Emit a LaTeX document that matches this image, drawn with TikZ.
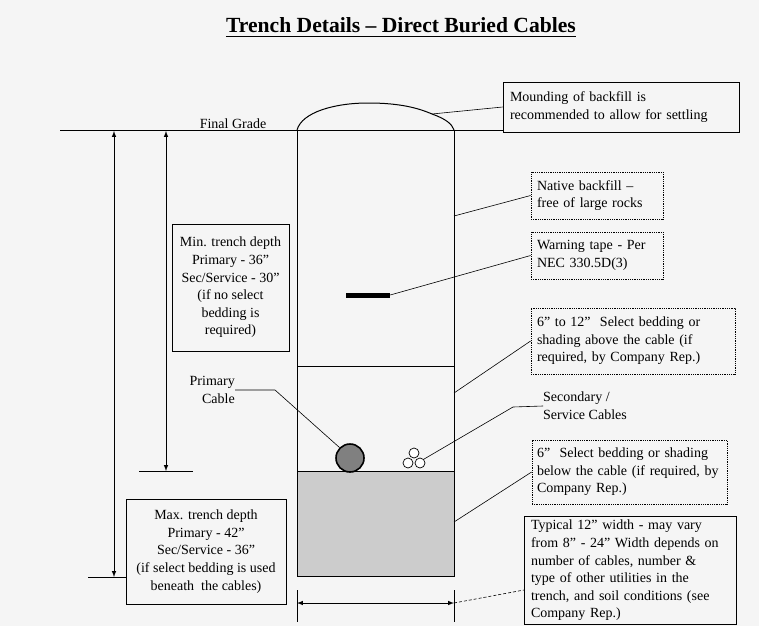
\documentclass[tikz,border=0pt]{standalone}
\usepackage{fontspec}
\setmainfont{Liberation Serif}
\usepackage{tikz}
\usetikzlibrary{positioning}

\tikzset{
    note/.style={draw=black, line width=0.8, inner sep=4, font=\fontsize{14}{17.6}\selectfont},
    dotnote/.style={note, densely dotted},
    lead/.style={line width=0.6},
    wall/.style={line width=1}
}

\begin{document}
\begin{tikzpicture}[x=1pt, y=-1pt, >=latex]
        \useasboundingbox (0, 0) rectangle (759, 626);
        \fill[black!4] (0, 0) rectangle (759, 626);
        % title
        \node(title) [anchor=base, inner sep=0, font=\fontsize{21.6}{24}\selectfont\bfseries] at (401, 33) {Trench Details -- Direct Buried Cables};
        \draw[line width=1.4] ([yshift=-3.5]title.base west) -- ([yshift=-3.5]title.base east);
        % ground and trench
        \draw[wall] (60, 130) -- (503, 130);
        \node(grade) [anchor=base, inner sep=0, font=\fontsize{14}{17.6}\selectfont] at (233, 128) {Final Grade};
        \fill[black!20] (297, 471) rectangle (454, 576);
        \draw[wall] (297, 130) -- (297, 576) -- (454, 576) -- (454, 130);
        \draw[wall] (297, 366) -- (454, 366);
        \draw[wall] (297, 471) -- (454, 471);
        \draw[wall] (297, 130) .. controls (302, 112) and (335, 103) .. (368, 103) .. controls (400, 103) and (418, 108) .. (432, 114) .. controls (446, 119) and (452, 124) .. (454, 130);
        % cables and tape
        \node(prim) [draw=black, line width=1.6, fill=black!50, circle, minimum size=28, inner sep=0] at (350, 458) {};
        \node(s1) [draw=black, line width=0.7, fill=white, circle, minimum size=10, inner sep=0] at (414, 453) {};
        \node(s2) [draw=black, line width=0.7, fill=white, circle, minimum size=10, inner sep=0] at (408, 463) {};
        \node(s3) [draw=black, line width=0.7, fill=white, circle, minimum size=10, inner sep=0] at (420, 463) {};
        \node(tape) [fill=black, minimum width=44, minimum height=5, inner sep=0] at (368, 295) {};
        % notes
        \node(mnd) [note, inner xsep=7, minimum height=50, text width=222, align=left] at (621, 107) {Mounding of backfill is\\recommended to allow for settling};
        \node(nat) [dotnote, inner xsep=6, minimum height=47, text width=120, align=left] at (597, 195.5) {Native backfill --\\free of large rocks};
        \node(warn) [dotnote, inner xsep=6, minimum height=47, text width=120, align=left] at (597, 255.5) {Warning tape - Per\\NEC 330.5D(3)};
        \node(abv) [dotnote, inner xsep=6, minimum height=66, text width=192, align=left] at (633, 341) {6” to 12”~ Select bedding or\\shading above the cable (if\\required, by Company Rep.)};
        \node(seclbl) [anchor=west, inner sep=0, align=left, font=\fontsize{14}{17.6}\selectfont] at (543, 406) {Secondary /\\Service Cables};
        \node(blw) [dotnote, inner xsep=5, minimum height=64, text width=185, align=left] at (629.5, 472) {6”~ Select bedding or shading\\below the cable (if required, by\\Company Rep.)};
        \node(typ) [note, inner xsep=7, minimum height=103, text width=198, align=left] at (630, 570.5) {Typical 12” width - may vary\\from 8” - 24” Width depends on\\number of cables, number \&\\type of other utilities in the\\trench, and soil conditions (see\\Company Rep.)};
        \node(minbox) [note, minimum width=117, minimum height=127, inner sep=3, align=center] at (230.5, 287.5) {Min. trench depth\\Primary - 36”\\Sec/Service - 30”\\(if no select\\bedding is\\required)};
        \node(maxbox) [note, minimum width=160, minimum height=105, inner sep=3, align=center] at (206, 551.5) {Max. trench depth\\Primary - 42”\\Sec/Service - 36”\\(if select bedding is used\\beneath~ the cables)};
        \node(plbl) [anchor=east, inner sep=0, align=right, font=\fontsize{14}{17.6}\selectfont] at (235, 390) {Primary\\Cable};
        % leader points
        \coordinate(mndpt) at (432, 114);
        \coordinate(natpt) at (454, 216);
        \coordinate(abvpt) at (454, 393);
        \coordinate(blwpt) at (454, 522);
        \coordinate(secbend) at (513, 407);
        \coordinate(pbend) at (275, 390);
        \coordinate(typpt) at (524, 590);
        % leaders
        \draw[lead] (mndpt) -- (mnd.west);
        \draw[lead] (natpt) -- (nat.west);
        \draw[lead] (tape.east) -- (warn.west);
        \draw[lead] (abvpt) -- (abv.west);
        \draw[lead] (s3.north east) -- (secbend) -- (seclbl.west);
        \draw[lead] (blwpt) -- (blw.west);
        \draw[lead] (plbl.east) -- (pbend) -- (prim.north west);
        % depth dimensions
        \coordinate(maxtop) at (114, 131);
        \coordinate(maxbot) at (114, 577);
        \coordinate(mintop) at (166, 131);
        \coordinate(minbot) at (166, 471);
        \draw[wall, <->] (maxtop) -- (maxbot);
        \draw[wall, <->] (mintop) -- (minbot);
        \draw[wall] (88, 577) -- (maxbox.west |- maxbot);
        \draw[wall] (139, 471) -- (193, 471);
        % width dimension
        \coordinate(wl) at (297, 603);
        \coordinate(wr) at (454, 603);
        \draw[wall] (297, 590) -- (297, 622);
        \draw[wall] (454, 590) -- (454, 622);
        \draw[wall, <->] (wl) -- (wr);
        \draw[lead, densely dashed] (wr) -- (typpt);
    \end{tikzpicture}
\end{document}
